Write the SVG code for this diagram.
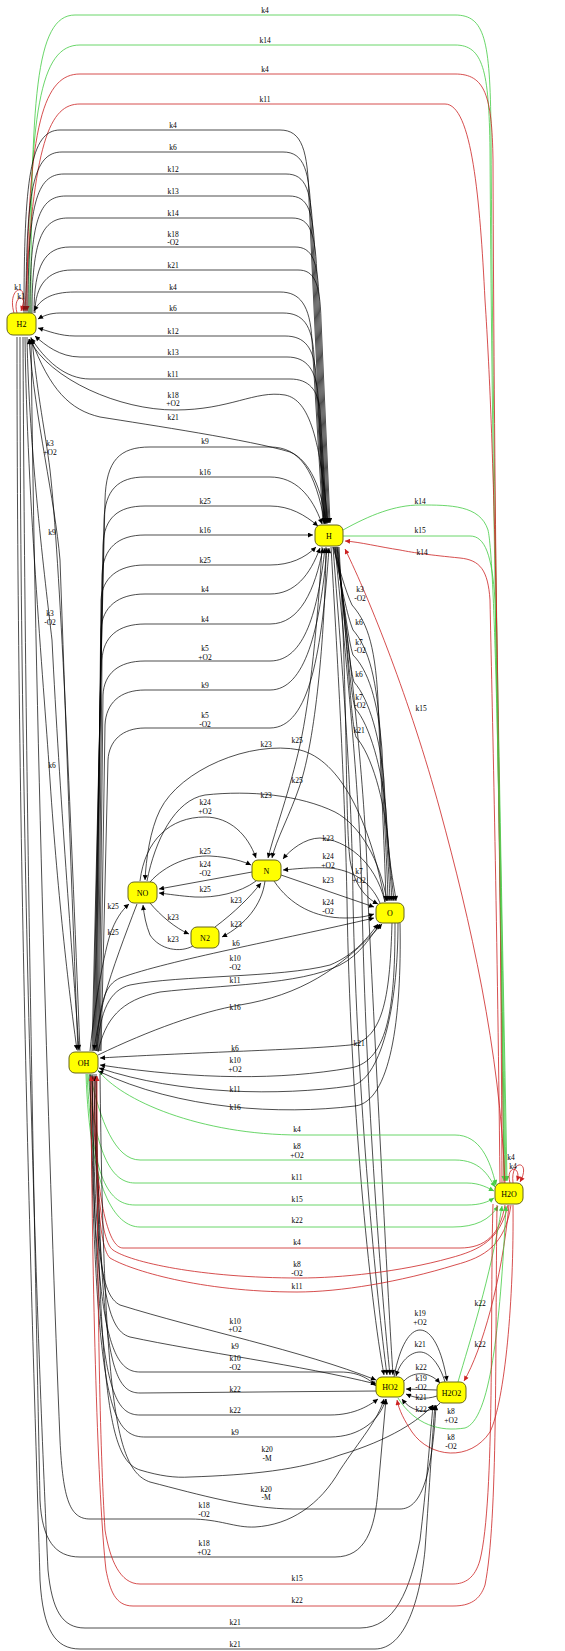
<svg xmlns="http://www.w3.org/2000/svg" width="565" height="1651" viewBox="0 0 565 1651">
<style>
.e{fill:none;stroke:#000;stroke-width:0.7}
.g{fill:none;stroke:#44cc44;stroke-width:0.8}
.r{fill:none;stroke:#cc2222;stroke-width:0.8}
.e{marker-end:url(#ab)}
.g{marker-end:url(#ag)}
.r{marker-end:url(#ar)}
text{font-family:"Liberation Serif","Times New Roman",serif;fill:#000}
.l{font-size:7.5px;text-anchor:middle}
.nt{font-size:8px;text-anchor:middle}
.nb{fill:#ffff00;stroke:#66661a;stroke-width:1}
</style>
<defs>
<marker id="ab" viewBox="0 0 10 10" refX="10" refY="5" markerWidth="7" markerHeight="5" markerUnits="userSpaceOnUse" orient="auto"><path d="M0,0L10,5L0,10z" fill="#000"/></marker>
<marker id="ag" viewBox="0 0 10 10" refX="10" refY="5" markerWidth="7" markerHeight="5" markerUnits="userSpaceOnUse" orient="auto"><path d="M0,0L10,5L0,10z" fill="#44cc44"/></marker>
<marker id="ar" viewBox="0 0 10 10" refX="10" refY="5" markerWidth="7" markerHeight="5" markerUnits="userSpaceOnUse" orient="auto"><path d="M0,0L10,5L0,10z" fill="#cc2222"/></marker>
</defs>
<rect width="565" height="1651" fill="#fff"/>
<g id="edges">
<!-- top H2 <-> H2O -->
<path class="g" d="M31,313 C31,100 35,15 75,15 L455,15 C485,15 490,40 491,130 C493,500 502,900 507,1181"/>
<path class="g" d="M29,313 C29,110 40,45 80,45 L455,45 C483,45 489,70 490,150 C492,500 501,900 505,1181"/>
<path class="r" d="M504,1183 C500,900 494,500 493,160 C492,95 485,74 455,74 L80,74 C45,74 27,120 27,311"/>
<path class="r" d="M502,1183 C500,700 495,450 485,300 C480,200 472,104 445,104 L80,104 C50,104 33,140 25,311"/>
<text class="l" x="265" y="13">k4</text>
<text class="l" x="265" y="43">k14</text>
<text class="l" x="265" y="72">k4</text>
<text class="l" x="265" y="102">k11</text>
<!-- H2 self loops -->
<path class="r" d="M17,313 C12,295 28,292 23,311"/>
<path class="r" d="M14,313 C6,285 32,280 21,311"/>
<text class="l" x="18" y="290">k1</text>
<text class="l" x="21" y="299">k1</text>
<!-- upper H2 -> H -->
<path class="e" d="M24,313 C24,180 30,130 60,130 L280,130 C302,130 308,150 309,200 L324,523"/>
<path class="e" d="M26,313 C26,190 33,152 62,152 L283,152 C304,152 310,170 311,220 L325,523"/>
<path class="e" d="M28,313 C28,205 36,174 64,174 L286,174 C306,174 312,190 313,240 L326,523"/>
<path class="e" d="M30,313 C30,220 39,196 66,196 L289,196 C308,196 314,210 315,260 L327,523"/>
<path class="e" d="M32,313 C32,240 42,218 68,218 L292,218 C310,218 316,232 317,280 L328,523"/>
<path class="e" d="M34,313 C34,265 45,247 70,247 L295,247 C312,247 318,260 319,300 L329,523"/>
<path class="e" d="M35,313 C35,285 48,270 72,270 L298,270 C314,270 320,282 321,320 L330,523"/>
<text class="l" x="173" y="128">k4</text>
<text class="l" x="173" y="150">k6</text>
<text class="l" x="173" y="172">k12</text>
<text class="l" x="173" y="194">k13</text>
<text class="l" x="173" y="216">k14</text>
<text class="l" x="173" y="237">k18</text><text class="l" x="173" y="245">-O2</text>
<text class="l" x="173" y="268">k21</text>
<!-- lower H -> H2 -->
<path class="e" d="M323,524 L312,340 C310,305 300,292 280,292 L75,292 C50,292 40,300 34,311"/>
<path class="e" d="M324,524 L314,355 C312,325 303,313 283,313 L60,313 C50,313 43,316 38,319"/>
<path class="e" d="M325,524 L316,375 C314,348 305,336 285,336 L75,336 C60,336 48,331 38,328"/>
<path class="e" d="M326,524 L318,395 C316,370 307,357 287,357 L80,357 C60,357 45,345 35,336"/>
<path class="e" d="M327,524 L320,410 C318,390 309,379 290,379 L90,379 C65,379 45,360 31,338"/>
<path class="e" d="M328,523 C320,440 310,400 285,395 C255,390 230,410 175,410 C120,410 50,380 29,339"/>
<path class="e" d="M326,523 C322,490 310,460 290,452 C250,440 150,425 100,417 C70,410 50,390 31,339"/>
<text class="l" x="173" y="290">k4</text>
<text class="l" x="173" y="311">k6</text>
<text class="l" x="173" y="334">k12</text>
<text class="l" x="173" y="355">k13</text>
<text class="l" x="173" y="377">k11</text>
<text class="l" x="173" y="398">k18</text><text class="l" x="173" y="406">+O2</text>
<text class="l" x="173" y="420">k21</text>
<!-- H2 <-> OH left -->
<path class="e" d="M80,1051 C70,800 60,560 50,470 C45,430 38,400 32,339"/>
<path class="e" d="M78,1051 C72,900 65,700 60,560 C55,500 35,420 29,339"/>
<path class="e" d="M27,337 C29,450 45,580 52,640 C60,800 72,950 79,1050"/>
<path class="e" d="M25,337 C27,500 45,700 50,780 C58,900 70,1000 77,1050"/>
<text class="l" x="50" y="446">k3</text><text class="l" x="50" y="455">+O2</text>
<text class="l" x="52" y="535">k9</text>
<text class="l" x="50" y="616">k3</text><text class="l" x="50" y="625">-O2</text>
<text class="l" x="52" y="768">k6</text>
<!-- OH -> H -->
<path class="e" d="M92,1051 L105,500 C106,460 120,447 150,447 L270,447 C300,447 315,470 325,524"/>
<path class="e" d="M93,1051 L104,520 C105,490 118,477 145,477 L270,477 C295,477 312,495 322,524"/>
<path class="e" d="M94,1051 L103,545 C104,518 118,506 145,506 L270,506 C290,506 305,515 318,526"/>
<path class="e" d="M95,1051 L102,575 C103,548 118,535 145,535 L313,535"/>
<path class="e" d="M96,1051 L101,600 C102,578 118,565 145,565 L270,565 C290,565 305,558 316,547"/>
<path class="e" d="M97,1051 L101,630 C102,607 118,594 145,594 L270,594 C295,594 310,575 320,548"/>
<path class="e" d="M98,1051 L102,660 C103,637 118,624 145,624 L270,624 C300,624 315,590 323,548"/>
<path class="e" d="M99,1051 L103,695 C104,674 118,661 145,661 L270,661 C305,661 318,610 325,548"/>
<path class="e" d="M100,1051 L105,725 C106,703 120,690 145,690 L270,690 C305,690 320,630 327,548"/>
<path class="e" d="M101,1051 L108,760 C109,741 122,728 145,728 L270,728 C310,728 322,650 329,548"/>
<text class="l" x="205" y="444">k9</text>
<text class="l" x="205" y="475">k16</text>
<text class="l" x="205" y="504">k25</text>
<text class="l" x="205" y="533">k16</text>
<text class="l" x="205" y="563">k25</text>
<text class="l" x="205" y="592">k4</text>
<text class="l" x="205" y="622">k4</text>
<text class="l" x="205" y="651">k5</text><text class="l" x="205" y="660">+O2</text>
<text class="l" x="205" y="688">k9</text>
<text class="l" x="205" y="718">k5</text><text class="l" x="205" y="727">-O2</text>
<!-- H <-> H2O -->
<path class="g" d="M343,530 C370,515 395,505 420,505 C450,505 480,505 488,530 C495,560 500,800 504,1181"/>
<path class="g" d="M343,536 L470,536 C485,536 492,555 495,600 C500,800 503,1000 506,1181"/>
<path class="r" d="M500,1183 C497,900 492,700 490,600 C488,570 480,560 460,558 C430,555 415,553 400,550 C380,547 360,542 345,541"/>
<path class="r" d="M505,1183 C500,1050 470,920 440,810 C410,700 370,600 345,549"/>
<text class="l" x="420" y="504">k14</text>
<text class="l" x="420" y="533">k15</text>
<text class="l" x="422" y="555">k14</text>
<text class="l" x="421" y="711">k15</text>
<!-- H -> O -->
<path class="e" d="M333,547 C340,570 345,590 352,605 C365,620 375,640 378,700 C381,780 385,860 386,901"/>
<path class="e" d="M334,547 C342,590 347,615 353,630 C366,645 376,670 380,730 C383,800 387,860 388,901"/>
<path class="e" d="M335,547 C344,600 348,640 353,655 C368,670 378,700 382,750 C385,820 389,870 390,901"/>
<path class="e" d="M336,547 C346,620 349,665 354,682 C370,700 380,740 384,780 C387,840 391,880 392,901"/>
<path class="e" d="M337,547 C348,650 350,690 355,708 C370,725 382,770 386,810 C389,860 393,890 394,901"/>
<path class="e" d="M338,547 C350,680 351,720 356,737 C372,755 384,800 388,840 C390,870 395,890 396,901"/>
<path class="e" d="M339,547 C348,700 345,820 350,860 C355,890 370,900 378,904"/>
<text class="l" x="360" y="592">k3</text><text class="l" x="360" y="601">-O2</text>
<text class="l" x="359" y="625">k6</text>
<text class="l" x="359" y="645">k7</text><text class="l" x="360" y="653">-O2</text>
<text class="l" x="359" y="677">k6</text>
<text class="l" x="359" y="700">k7</text><text class="l" x="360" y="708">-O2</text>
<text class="l" x="359" y="733">k21</text>
<text class="l" x="359" y="874">k7</text><text class="l" x="359" y="883">+O2</text>
<!-- H -> HO2 -->
<path class="e" d="M331,547 C340,700 345,800 347,900 C350,1100 370,1300 384,1375"/>
<path class="e" d="M333,547 C345,700 352,800 353,900 C357,1100 377,1300 387,1375"/>
<path class="e" d="M335,547 C350,700 360,800 362,900 C366,1100 382,1300 390,1375"/>
<path class="e" d="M337,547 C355,700 366,800 368,900 C378,1100 388,1300 393,1375"/>
<text class="l" x="359" y="1046">k21</text>
<!-- H -> N -->
<path class="e" d="M322,547 C318,620 310,700 300,745 C290,790 275,830 268,858"/>
<path class="e" d="M326,547 C325,640 315,740 300,785 C290,815 276,840 272,858"/>
<text class="l" x="297" y="743">k25</text>
<text class="l" x="297" y="783">k25</text>
<!-- NO / N / N2 / O -->
<path class="e" d="M385,902 C370,820 340,760 300,750 C250,740 180,770 160,810 C150,830 146,860 145,880"/>
<path class="e" d="M147,881 C155,840 175,800 205,795 C250,790 300,795 335,812 C360,825 380,860 387,901"/>
<path class="e" d="M140,881 C145,840 170,817 205,817 C230,817 248,835 256,858"/>
<text class="l" x="266" y="747">k23</text>
<text class="l" x="266" y="798">k23</text>
<text class="l" x="205" y="805">k24</text><text class="l" x="205" y="814">+O2</text>
<path class="e" d="M150,882 C165,865 190,855 210,856 C230,857 245,862 251,865"/>
<path class="e" d="M252,872 L159,889"/>
<path class="e" d="M256,881 C240,893 215,898 195,897 C180,896 168,894 159,893"/>
<text class="l" x="205" y="854">k25</text>
<text class="l" x="205" y="867">k24</text><text class="l" x="205" y="876">-O2</text>
<text class="l" x="205" y="892">k25</text>
<path class="e" d="M150,903 C160,915 175,928 189,934"/>
<path class="e" d="M193,946 C180,953 160,950 150,935 C146,925 144,915 143,905"/>
<path class="e" d="M215,927 C235,912 250,897 261,883"/>
<path class="e" d="M265,881 C262,905 245,925 222,937"/>
<text class="l" x="173" y="920">k23</text>
<text class="l" x="173" y="942">k23</text>
<text class="l" x="236" y="903">k23</text>
<text class="l" x="236" y="927">k23</text>
<path class="e" d="M385,902 C375,860 345,840 320,838 C305,838 290,850 283,859"/>
<path class="e" d="M380,903 C370,880 350,870 330,868 C310,867 295,869 283,870"/>
<path class="e" d="M281,875 L374,907"/>
<path class="e" d="M274,881 C290,905 315,918 345,918 C360,918 368,916 374,914"/>
<text class="l" x="328" y="841">k23</text>
<text class="l" x="328" y="859">k24</text><text class="l" x="328" y="868">+O2</text>
<text class="l" x="328" y="883">k23</text>
<text class="l" x="328" y="905">k24</text><text class="l" x="328" y="914">-O2</text>
<!-- OH <-> NO -->
<path class="e" d="M90,1051 C95,1000 105,950 110,935 C115,920 122,910 129,904"/>
<path class="e" d="M137,904 C125,935 112,970 105,995 C100,1015 96,1035 94,1050"/>
<text class="l" x="113" y="909">k25</text>
<text class="l" x="113" y="935">k25</text>
<!-- OH <-> O -->
<path class="e" d="M96,1051 C100,1000 105,985 120,978 C170,960 280,940 374,918"/>
<path class="e" d="M97,1051 C100,1010 110,990 130,985 C180,975 280,978 330,965 C355,955 370,935 378,924"/>
<path class="e" d="M98,1052 C105,1020 120,1000 160,992 C220,985 300,985 340,965 C360,955 372,935 380,924"/>
<path class="e" d="M98,1055 C150,1030 200,1012 240,1005 C300,995 340,970 382,924"/>
<path class="e" d="M392,923 C390,990 385,1040 350,1045 C300,1050 200,1052 100,1058"/>
<path class="e" d="M395,923 C395,1000 390,1062 350,1068 C280,1080 200,1080 100,1065"/>
<path class="e" d="M398,923 C398,1010 380,1082 350,1086 C280,1096 180,1095 99,1068"/>
<path class="e" d="M400,923 C402,1020 390,1102 355,1106 C280,1115 180,1110 98,1071"/>
<text class="l" x="236" y="946">k6</text>
<text class="l" x="235" y="961">k10</text><text class="l" x="235" y="970">-O2</text>
<text class="l" x="235" y="983">k11</text>
<text class="l" x="235" y="1010">k16</text>
<text class="l" x="235" y="1051">k6</text>
<text class="l" x="235" y="1063">k10</text><text class="l" x="235" y="1072">+O2</text>
<text class="l" x="235" y="1092">k11</text>
<text class="l" x="235" y="1110">k16</text>
<!-- OH <-> H2O -->
<path class="g" d="M98,1070 C120,1100 200,1135 300,1135 L455,1135 C480,1135 490,1160 496,1185"/>
<path class="g" d="M90,1074 C100,1120 115,1160 140,1160 L455,1160 C480,1160 488,1175 495,1187"/>
<path class="g" d="M88,1074 C95,1150 110,1183 135,1183 L467,1183 C480,1183 488,1188 494,1191"/>
<path class="g" d="M87,1074 C92,1170 105,1205 135,1205 L467,1205 C480,1205 488,1202 494,1198"/>
<path class="g" d="M86,1074 C90,1190 115,1227 140,1227 L453,1227 C475,1227 490,1220 498,1206"/>
<path class="r" d="M505,1205 C500,1235 485,1248 460,1248 L123,1248 C108,1248 95,1200 92,1076"/>
<path class="r" d="M508,1205 C500,1240 480,1250 450,1258 C400,1272 340,1278 300,1278 C200,1278 130,1262 113,1250 C98,1240 95,1150 94,1076"/>
<path class="r" d="M511,1205 C505,1245 485,1257 455,1265 C400,1282 340,1292 297,1292 C200,1292 130,1270 110,1258 C96,1245 96,1150 96,1076"/>
<text class="l" x="297" y="1132">k4</text>
<text class="l" x="297" y="1149">k8</text><text class="l" x="297" y="1158">+O2</text>
<text class="l" x="297" y="1180">k11</text>
<text class="l" x="297" y="1202">k15</text>
<text class="l" x="297" y="1223">k22</text>
<text class="l" x="297" y="1245">k4</text>
<text class="l" x="297" y="1267">k8</text><text class="l" x="297" y="1276">-O2</text>
<text class="l" x="297" y="1289">k11</text>
<!-- H2O self loops -->
<path class="r" d="M510,1183 C505,1165 522,1165 517,1181"/>
<path class="r" d="M513,1183 C510,1158 532,1160 520,1182"/>
<text class="l" x="511" y="1160">k4</text>
<text class="l" x="513" y="1169">k4</text>
<!-- OH <-> HO2 -->
<path class="e" d="M92,1074 C95,1250 100,1295 120,1305 C200,1330 300,1350 376,1380"/>
<path class="e" d="M94,1074 C97,1280 105,1330 130,1337 C200,1352 300,1365 376,1384"/>
<path class="e" d="M90,1074 C95,1330 110,1372 140,1372 L340,1372 C360,1372 370,1380 376,1386"/>
<path class="e" d="M376,1391 L140,1393 C110,1393 100,1350 96,1076"/>
<path class="e" d="M92,1075 C95,1380 110,1415 140,1415 L330,1415 C355,1415 370,1405 378,1399"/>
<path class="e" d="M90,1075 C95,1400 110,1437 145,1437 L330,1437 C360,1437 380,1420 386,1399"/>
<text class="l" x="235" y="1324">k10</text><text class="l" x="235" y="1332">+O2</text>
<text class="l" x="235" y="1349">k9</text>
<text class="l" x="235" y="1361">k10</text><text class="l" x="235" y="1370">-O2</text>
<text class="l" x="235" y="1392">k22</text>
<text class="l" x="235" y="1413">k22</text>
<text class="l" x="235" y="1435">k9</text>
<!-- OH -> H2O2 -->
<path class="e" d="M96,1074 C98,1400 110,1460 140,1470 C160,1476 175,1478 190,1477 C250,1475 300,1470 340,1455 C390,1440 420,1420 433,1405"/>
<path class="e" d="M100,1074 C104,1400 115,1470 150,1482 C200,1495 250,1509 293,1509 L400,1509 C420,1509 432,1480 436,1405"/>
<text class="l" x="267" y="1452">k20</text><text class="l" x="267" y="1461">-M</text>
<text class="l" x="266" y="1492">k20</text><text class="l" x="266" y="1500">-M</text>
<!-- HO2 <-> H2O2 -->
<path class="e" d="M394,1377 C400,1345 410,1330 420,1330 C432,1330 442,1350 447,1381"/>
<path class="e" d="M445,1382 C440,1365 430,1352 420,1352 C410,1352 400,1362 396,1376"/>
<path class="e" d="M404,1381 C412,1372 428,1370 440,1383"/>
<path class="e" d="M437,1390 L406,1389"/>
<path class="e" d="M437,1396 C425,1400 415,1398 406,1394"/>
<path class="e" d="M440,1403 C430,1415 412,1413 402,1399"/>
<text class="l" x="420" y="1316">k19</text><text class="l" x="420" y="1325">+O2</text>
<text class="l" x="420" y="1347">k21</text>
<text class="l" x="421" y="1370">k22</text>
<text class="l" x="421" y="1381">k19</text><text class="l" x="421" y="1390">-O2</text>
<text class="l" x="421" y="1400">k21</text>
<text class="l" x="421" y="1412">k22</text>
<!-- H2O2/HO2 <-> H2O -->
<path class="g" d="M458,1382 C470,1340 490,1280 502,1206"/>
<path class="r" d="M509,1205 C502,1280 482,1350 464,1381"/>
<path class="g" d="M398,1398 C415,1425 440,1432 465,1428 C490,1420 500,1330 506,1206"/>
<path class="r" d="M513,1205 C514,1300 505,1400 490,1432 C470,1462 430,1458 412,1432 C404,1420 399,1410 397,1400"/>
<text class="l" x="480" y="1306">k22</text>
<text class="l" x="480" y="1347">k22</text>
<text class="l" x="451" y="1414">k8</text><text class="l" x="451" y="1423">+O2</text>
<text class="l" x="451" y="1440">k8</text><text class="l" x="451" y="1449">-O2</text>
<!-- bottom loops -->
<path class="e" d="M31,337 C35,700 50,1200 60,1440 C63,1500 70,1519 90,1519 L190,1519 C220,1519 235,1528 255,1527 C290,1525 320,1505 340,1470 C360,1440 378,1420 384,1399"/>
<path class="e" d="M23,337 C25,800 36,1300 40,1500 C42,1540 55,1557 80,1557 L335,1557 C365,1557 375,1530 378,1490 L386,1399"/>
<path class="e" d="M20,337 C20,900 40,1400 48,1570 C52,1610 62,1628 85,1628 L360,1628 C395,1628 410,1590 420,1540 C426,1490 430,1440 433,1405"/>
<path class="e" d="M17,337 C17,900 35,1400 40,1580 C43,1630 55,1649 80,1649 L375,1649 C405,1649 420,1600 425,1550 C430,1480 432,1440 435,1405"/>
<path class="r" d="M493,1204 C490,1300 495,1500 480,1560 C475,1578 465,1584 453,1584 L140,1584 C120,1584 110,1560 105,1530 C100,1450 97,1300 97,1076"/>
<path class="r" d="M497,1205 C495,1350 498,1520 485,1585 C480,1600 470,1606 453,1606 L133,1606 C115,1606 110,1590 106,1570 C98,1500 92,1300 91,1076"/>
<text class="l" x="204" y="1508">k18</text><text class="l" x="204" y="1517">-O2</text>
<text class="l" x="204" y="1546">k18</text><text class="l" x="204" y="1555">+O2</text>
<text class="l" x="297" y="1581">k15</text>
<text class="l" x="297" y="1603">k22</text>
<text class="l" x="235" y="1625">k21</text>
<text class="l" x="235" y="1647">k21</text>
</g>
<g id="node-H2"><rect class="nb" x="7" y="313" width="29" height="22" rx="6"/><text class="nt" x="21.5" y="327">H2</text></g>
<g id="node-H"><rect class="nb" x="315" y="525" width="28" height="21" rx="6"/><text class="nt" x="329" y="538.5">H</text></g>
<g id="node-NO"><rect class="nb" x="128" y="882" width="29" height="21" rx="6"/><text class="nt" x="142.5" y="895.5">NO</text></g>
<g id="node-N"><rect class="nb" x="252" y="860" width="29" height="21" rx="6"/><text class="nt" x="266.5" y="873.5">N</text></g>
<g id="node-O"><rect class="nb" x="376" y="903" width="28" height="20" rx="6"/><text class="nt" x="390" y="916">O</text></g>
<g id="node-N2"><rect class="nb" x="191" y="927" width="28" height="21" rx="6"/><text class="nt" x="205" y="940.5">N2</text></g>
<g id="node-OH"><rect class="nb" x="69" y="1052" width="29" height="21" rx="6"/><text class="nt" x="83.5" y="1065.5">OH</text></g>
<g id="node-H2O"><rect class="nb" x="495" y="1183" width="28" height="21" rx="6"/><text class="nt" x="509" y="1196.5">H2O</text></g>
<g id="node-HO2"><rect class="nb" x="376" y="1377" width="28" height="20" rx="6"/><text class="nt" x="390" y="1390">HO2</text></g>
<g id="node-H2O2"><rect class="nb" x="437" y="1382" width="29" height="21" rx="6"/><text class="nt" x="451.5" y="1395.5">H2O2</text></g>
</svg>
